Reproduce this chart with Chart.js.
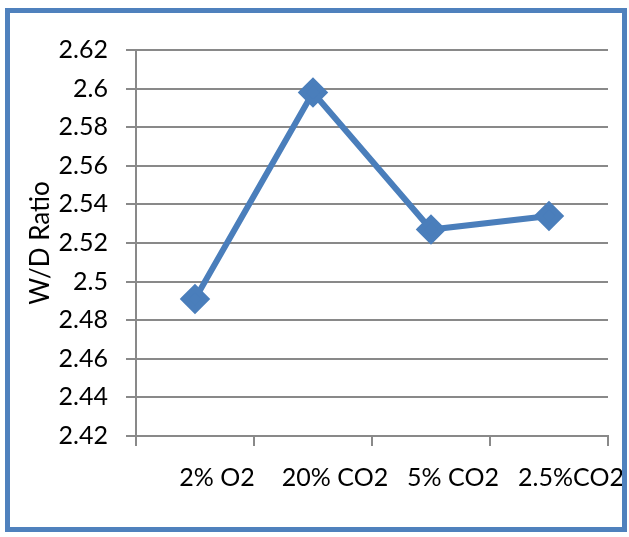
<!DOCTYPE html>
<html>
<head>
<meta charset="utf-8">
<script src="https://cdn.jsdelivr.net/npm/chart.js@4"></script>
<style>
  html, body { margin: 0; padding: 0; background: #fff; }
  #wrap { position: relative; width: 629px; height: 537px; }
  #frame {
    position: absolute; left: 5px; top: 8px; width: 612px; height: 514px;
    border: 5px solid #4F81BD; pointer-events: none;
  }
  canvas { position: absolute; left: 0; top: 0; }
</style>
</head>
<body>
<div id="wrap">
  <canvas id="chart" width="629" height="537"></canvas>
  <div id="frame"></div>
</div>
<script>
const categories = ['2% O2', '20% CO2', '5% CO2', '2.5%CO2'];
const wdRatio = [2.491, 2.598, 2.527, 2.534];
const yMin = 2.42;
const yMax = 2.62;
const yStep = 0.02;

const ctx = document.getElementById('chart').getContext('2d');
new Chart(ctx, {
  type: 'line',
  data: {
    labels: categories,
    datasets: [{
      data: wdRatio,
      borderColor: '#4A7EBB',
      backgroundColor: '#4A7EBB',
      borderWidth: 6,
      pointStyle: 'rectRot',
      pointRadius: 11,
      pointHoverRadius: 11,
      tension: 0
    }]
  },
  options: {
    responsive: false,
    animation: false,
    layout: { padding: { left: 0, right: 21, top: 50, bottom: 0 } },
    plugins: { legend: { display: false }, tooltip: { enabled: false } },
    scales: {
      x: {
        offset: true,
        grid: { offset: true, drawOnChartArea: false, color: '#898989', lineWidth: 2, tickLength: 10 },
        border: { color: '#898989', width: 2 },
        ticks: { color: '#000', font: { family: 'Lato', size: 25 }, padding: 17, labelOffset: 22, maxRotation: 0 },
        afterFit: s => { s.height = 101; }
      },
      y: {
        min: yMin,
        max: yMax,
        grid: { color: '#898989', lineWidth: 2, tickLength: 10 },
        border: { color: '#898989', width: 2 },
        ticks: {
          stepSize: yStep,
          color: '#000',
          font: { family: 'Lato', size: 25 },
          padding: 18,
          callback: v => String(Number(v.toFixed(2)))
        },
        title: {
          display: true,
          text: 'W/D Ratio',
          color: '#000',
          font: { family: 'Lato', size: 26 },
          padding: { top: 25, bottom: 0 }
        },
        afterFit: s => { s.width = 136; }
      }
    }
  }
});
</script>
</body>
</html>
